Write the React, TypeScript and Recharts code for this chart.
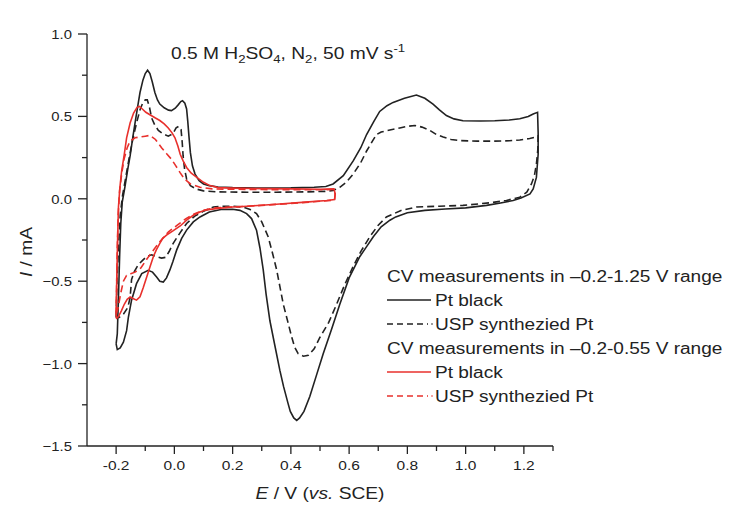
import { Line, LineChart, XAxis, YAxis } from 'recharts'

// E (V vs. SCE), I (mA), each loop in scan order
const ptBlackWide: [number, number][] = [
  [-0.2, -0.88], [-0.196, -0.82], [-0.192, -0.6], [-0.188, -0.35], [-0.184, -0.15],
  [-0.179, -0.02], [-0.17, 0.07], [-0.16, 0.18], [-0.152, 0.26], [-0.143, 0.37],
  [-0.135, 0.46], [-0.126, 0.56], [-0.118, 0.645], [-0.108, 0.72], [-0.1, 0.76],
  [-0.092, 0.78], [-0.084, 0.76], [-0.076, 0.71], [-0.067, 0.645], [-0.058, 0.6],
  [-0.05, 0.575], [-0.035, 0.552], [-0.02, 0.538], [-0.01, 0.535], [0.003, 0.55],
  [0.013, 0.57], [0.022, 0.59], [0.028, 0.595], [0.036, 0.58], [0.042, 0.545],
  [0.046, 0.47], [0.05, 0.38], [0.055, 0.28], [0.062, 0.2], [0.071, 0.15],
  [0.085, 0.11], [0.1, 0.09], [0.12, 0.08], [0.15, 0.072], [0.2, 0.068],
  [0.3, 0.065], [0.4, 0.066], [0.48, 0.07], [0.52, 0.075], [0.545, 0.09],
  [0.58, 0.14], [0.614, 0.23], [0.64, 0.31], [0.66, 0.39], [0.685, 0.47],
  [0.705, 0.53], [0.73, 0.565], [0.751, 0.585], [0.79, 0.61], [0.831, 0.63],
  [0.86, 0.61], [0.888, 0.575], [0.91, 0.54], [0.934, 0.505], [0.96, 0.485],
  [0.991, 0.474], [1.05, 0.472], [1.1, 0.474], [1.15, 0.478], [1.186, 0.486],
  [1.215, 0.5], [1.232, 0.515], [1.247, 0.525],
  [1.249, 0.4], [1.249, 0.27], [1.243, 0.13], [1.232, 0.06], [1.221, 0.03],
  [1.19, 0.005], [1.163, -0.01], [1.12, -0.025], [1.072, -0.04], [1.0, -0.055],
  [0.93, -0.062], [0.86, -0.07], [0.8, -0.085], [0.76, -0.11], [0.74, -0.13],
  [0.71, -0.17], [0.683, -0.23], [0.66, -0.29], [0.637, -0.35], [0.6, -0.48],
  [0.568, -0.64], [0.54, -0.79], [0.511, -0.94], [0.488, -1.07], [0.465, -1.2],
  [0.445, -1.29], [0.43, -1.33], [0.42, -1.345], [0.41, -1.33], [0.398, -1.29],
  [0.39, -1.24], [0.375, -1.14], [0.362, -1.04], [0.345, -0.89], [0.328, -0.74],
  [0.315, -0.58], [0.305, -0.43], [0.294, -0.3], [0.282, -0.19], [0.265, -0.12],
  [0.248, -0.09], [0.225, -0.07], [0.2, -0.063], [0.16, -0.065], [0.12, -0.08],
  [0.088, -0.11], [0.065, -0.14], [0.042, -0.19], [0.025, -0.24], [0.008, -0.31],
  [-0.005, -0.38], [-0.015, -0.43], [-0.027, -0.48], [-0.038, -0.505], [-0.05, -0.5],
  [-0.061, -0.475], [-0.075, -0.445], [-0.09, -0.434], [-0.112, -0.454], [-0.13, -0.515],
  [-0.147, -0.615], [-0.158, -0.72], [-0.164, -0.8], [-0.175, -0.87], [-0.186, -0.905],
  [-0.196, -0.915], [-0.2, -0.88],
]

const uspWide: [number, number][] = [
  [-0.2, -0.72], [-0.197, -0.5], [-0.192, -0.3], [-0.186, -0.1], [-0.178, 0.02],
  [-0.168, 0.12], [-0.155, 0.25], [-0.143, 0.36], [-0.13, 0.46], [-0.118, 0.54],
  [-0.108, 0.585], [-0.1, 0.6], [-0.093, 0.6], [-0.086, 0.56], [-0.078, 0.49],
  [-0.068, 0.45], [-0.055, 0.415], [-0.04, 0.395], [-0.021, 0.38], [-0.005, 0.395],
  [0.006, 0.43], [0.015, 0.44], [0.023, 0.42], [0.027, 0.34], [0.03, 0.26],
  [0.035, 0.18], [0.042, 0.12], [0.055, 0.08], [0.074, 0.06], [0.1, 0.048],
  [0.15, 0.042], [0.25, 0.04], [0.35, 0.04], [0.45, 0.042], [0.52, 0.045],
  [0.545, 0.05], [0.568, 0.07], [0.59, 0.1], [0.614, 0.15], [0.64, 0.22],
  [0.66, 0.29], [0.68, 0.35], [0.694, 0.39], [0.71, 0.405], [0.728, 0.413],
  [0.774, 0.43], [0.8, 0.44], [0.826, 0.445], [0.85, 0.435], [0.877, 0.415],
  [0.9, 0.39], [0.923, 0.375], [0.95, 0.36], [0.98, 0.353], [1.04, 0.35],
  [1.094, 0.35], [1.15, 0.352], [1.186, 0.357], [1.22, 0.366], [1.237, 0.373],
  [1.249, 0.383],
  [1.248, 0.3], [1.243, 0.21], [1.236, 0.14], [1.226, 0.09], [1.21, 0.04],
  [1.186, 0.01], [1.14, -0.01], [1.08, -0.025], [0.991, -0.04], [0.91, -0.045],
  [0.831, -0.05], [0.78, -0.07], [0.728, -0.11], [0.7, -0.16], [0.671, -0.23],
  [0.64, -0.32], [0.614, -0.41], [0.585, -0.52], [0.557, -0.64], [0.53, -0.75],
  [0.5, -0.84], [0.48, -0.91], [0.46, -0.95], [0.443, -0.955], [0.425, -0.94],
  [0.413, -0.9], [0.403, -0.84], [0.39, -0.75], [0.374, -0.64], [0.362, -0.53],
  [0.351, -0.43], [0.337, -0.33], [0.322, -0.23], [0.3, -0.14], [0.282, -0.09],
  [0.26, -0.065], [0.236, -0.05], [0.2, -0.045], [0.16, -0.045], [0.134, -0.05],
  [0.1, -0.075], [0.07, -0.105], [0.042, -0.15], [0.02, -0.205], [-0.004, -0.27],
  [-0.018, -0.32], [-0.03, -0.355], [-0.044, -0.36], [-0.061, -0.35], [-0.078, -0.34],
  [-0.095, -0.35], [-0.11, -0.375], [-0.124, -0.4], [-0.137, -0.44], [-0.147, -0.49],
  [-0.152, -0.6], [-0.16, -0.66], [-0.175, -0.7], [-0.19, -0.72], [-0.2, -0.72],
]

const ptBlackNarrow: [number, number][] = [
  [-0.2, -0.72], [-0.198, -0.5], [-0.195, -0.25], [-0.192, -0.05], [-0.187, 0.07],
  [-0.181, 0.17], [-0.172, 0.27], [-0.164, 0.37], [-0.152, 0.46], [-0.14, 0.52],
  [-0.128, 0.555], [-0.12, 0.56], [-0.11, 0.545], [-0.098, 0.525], [-0.084, 0.51],
  [-0.065, 0.49], [-0.05, 0.475], [-0.035, 0.455], [-0.021, 0.43], [-0.008, 0.4],
  [0.002, 0.37], [0.012, 0.32], [0.02, 0.27], [0.03, 0.23], [0.042, 0.19],
  [0.058, 0.155], [0.077, 0.13], [0.1, 0.1], [0.122, 0.08], [0.15, 0.068],
  [0.2, 0.065], [0.3, 0.062], [0.4, 0.06], [0.5, 0.058], [0.548, 0.06],
  [0.552, 0.03], [0.55, -0.005], [0.523, -0.01], [0.45, -0.02], [0.35, -0.033],
  [0.25, -0.045], [0.2, -0.05], [0.15, -0.058], [0.11, -0.067], [0.088, -0.08],
  [0.065, -0.1], [0.042, -0.13], [0.02, -0.165], [-0.005, -0.195], [-0.027, -0.22],
  [-0.04, -0.24], [-0.05, -0.27], [-0.062, -0.31], [-0.072, -0.35], [-0.085, -0.42],
  [-0.095, -0.475], [-0.107, -0.54], [-0.118, -0.595], [-0.13, -0.615], [-0.142, -0.605],
  [-0.152, -0.595], [-0.162, -0.61], [-0.172, -0.64], [-0.182, -0.68], [-0.192, -0.715],
  [-0.198, -0.725], [-0.2, -0.72],
]

const uspNarrow: [number, number][] = [
  [-0.2, -0.7], [-0.198, -0.5], [-0.196, -0.3], [-0.193, -0.1], [-0.188, 0.05],
  [-0.181, 0.15], [-0.173, 0.24], [-0.162, 0.31], [-0.152, 0.35], [-0.135, 0.37],
  [-0.118, 0.375], [-0.1, 0.38], [-0.084, 0.385], [-0.065, 0.36], [-0.044, 0.31],
  [-0.025, 0.27], [-0.01, 0.24], [0.005, 0.2], [0.019, 0.16], [0.035, 0.12],
  [0.055, 0.09], [0.088, 0.07], [0.13, 0.06], [0.2, 0.058], [0.3, 0.056],
  [0.4, 0.055], [0.5, 0.055], [0.548, 0.057],
  [0.552, 0.03], [0.55, -0.008], [0.5, -0.015], [0.4, -0.028], [0.3, -0.04],
  [0.2, -0.05], [0.14, -0.055], [0.1, -0.07], [0.07, -0.09], [0.04, -0.12],
  [0.01, -0.16], [-0.02, -0.2], [-0.05, -0.26], [-0.08, -0.33], [-0.1, -0.38],
  [-0.115, -0.42], [-0.135, -0.445], [-0.15, -0.455], [-0.164, -0.465], [-0.175, -0.5],
  [-0.185, -0.58], [-0.193, -0.66], [-0.2, -0.7],
]

const xTicks = [-0.2, -0.1, 0, 0.1, 0.2, 0.3, 0.4, 0.5, 0.6, 0.7, 0.8, 0.9, 1.0, 1.1, 1.2, 1.3]
const yTicks = [-1.5, -1.25, -1.0, -0.75, -0.5, -0.25, 0, 0.25, 0.5, 0.75, 1.0]

const legendHeaders = ['CV measurements in \u20130.2-1.25 V range', 'CV measurements in \u20130.2-0.55 V range']
const legendItems = ['Pt black', 'USP synthezied Pt']

const ink = '#222'
const red = '#e8302c'
const font = '"Liberation Sans", Arial, sans-serif'

const toPoints = (arr: [number, number][]) => arr.map(([x, y]) => ({ x, y }))

function SText({ x, y, children, size = 16, sx = 1.2, anchor = 'start', rotate = 0, style }: any) {
  return (
    <text
      transform={`translate(${x} ${y}) rotate(${rotate}) scale(${sx} 1)`}
      fontFamily={font}
      fontSize={size}
      fill={ink}
      textAnchor={anchor}
      style={style}
    >
      {children}
    </text>
  )
}

function XTick({ x, y, payload }: any) {
  const v = payload.value
  const major = Math.round(v * 10) % 2 === 0
  return (
    <g>
      <line x1={x} x2={x} y1={y} y2={y + (major ? 8 : 5)} stroke={ink} strokeWidth={1.3} />
      {major && (
        <SText x={x} y={y + 24} size={13.5} sx={1.15} anchor="middle">
          {v.toFixed(1)}
        </SText>
      )}
    </g>
  )
}

function YTick({ x, y, payload }: any) {
  const v = payload.value
  const major = Math.abs(v * 2 - Math.round(v * 2)) < 1e-6
  return (
    <g>
      <line x1={x} x2={x - (major ? 9 : 5)} y1={y} y2={y} stroke={ink} strokeWidth={1.3} />
      {major && (
        <SText x={x - 15} y={y + 5} size={13.5} sx={1.1} anchor="end">
          {v.toFixed(1).replace('-', '\u2212')}
        </SText>
      )}
    </g>
  )
}

function Overlay() {
  const rowY = (i: number) => 276 + 24 * i
  const rows = [
    { text: legendHeaders[0], sample: null },
    { text: legendItems[0], sample: { color: ink, dash: undefined } },
    { text: legendItems[1], sample: { color: ink, dash: '6 4' } },
    { text: legendHeaders[1], sample: null },
    { text: legendItems[0], sample: { color: red, dash: undefined } },
    { text: legendItems[1], sample: { color: red, dash: '6 4' } },
  ]
  return (
    <svg
      width={732}
      height={506}
      style={{ position: 'absolute', left: 0, top: 0, pointerEvents: 'none' }}
    >
      <SText x={171} y={59}>
        <tspan>0.5 M H</tspan>
        <tspan fontSize={11} dy={4}>2</tspan>
        <tspan dy={-4}>SO</tspan>
        <tspan fontSize={11} dy={4}>4</tspan>
        <tspan dy={-4}>, N</tspan>
        <tspan fontSize={11} dy={4}>2</tspan>
        <tspan dy={-4}>, 50 mV s</tspan>
        <tspan fontSize={11} dy={-7}>-1</tspan>
      </SText>
      <SText x={320} y={499} anchor="middle">
        <tspan fontStyle="italic">E</tspan>
        <tspan> / V (</tspan>
        <tspan fontStyle="italic">vs.</tspan>
        <tspan> SCE)</tspan>
      </SText>
      <SText x={32} y={252} anchor="middle" rotate={-90} sx={1.2}>
        <tspan fontStyle="italic">I</tspan>
        <tspan> / mA</tspan>
      </SText>
      {rows.map((r, i) =>
        r.sample ? (
          <g key={i}>
            <line
              x1={387}
              x2={r.sample.dash ? 428 : 431}
              y1={rowY(i)}
              y2={rowY(i)}
              stroke={r.sample.color}
              strokeWidth={1.5}
              strokeDasharray={r.sample.dash}
            />
            {r.sample.dash && <circle cx={432} cy={rowY(i)} r={0.8} fill={r.sample.color} />}
            <SText x={435} y={rowY(i) + 6} sx={1.19}>{r.text}</SText>
          </g>
        ) : (
          <SText key={i} x={387} y={rowY(i) + 6} sx={1.19}>{r.text}</SText>
        ),
      )}
    </svg>
  )
}

export default function App() {
  return (
    <div style={{ position: 'absolute', left: 0, top: 0, width: 732, height: 506, background: '#fff' }}>
      <LineChart width={732} height={506} margin={{ top: 34, right: 179, bottom: 30, left: 0 }}>
        <XAxis
          type="number"
          dataKey="x"
          domain={[-0.3, 1.3]}
          ticks={xTicks}
          interval={0}
          allowDataOverflow
          height={30}
          tickSize={0}
          tickMargin={0}
          tickLine={false}
          tick={<XTick />}
          axisLine={{ stroke: ink, strokeWidth: 1.3 }}
        />
        <YAxis
          type="number"
          domain={[-1.5, 1.0]}
          ticks={yTicks}
          interval={0}
          allowDataOverflow
          width={87}
          tickSize={0}
          tickMargin={0}
          tickLine={false}
          tick={<YTick />}
          axisLine={{ stroke: ink, strokeWidth: 1.3 }}
        />
        <Line data={toPoints(ptBlackWide)} dataKey="y" type="linear" stroke={ink} strokeWidth={1.6} dot={false} isAnimationActive={false} />
        <Line data={toPoints(uspWide)} dataKey="y" type="linear" stroke={ink} strokeWidth={1.6} strokeDasharray="7 4" dot={false} isAnimationActive={false} />
        <Line data={toPoints(ptBlackNarrow)} dataKey="y" type="linear" stroke={red} strokeWidth={1.6} dot={false} isAnimationActive={false} />
        <Line data={toPoints(uspNarrow)} dataKey="y" type="linear" stroke={red} strokeWidth={1.6} strokeDasharray="7 4" dot={false} isAnimationActive={false} />
      </LineChart>
      <Overlay />
    </div>
  )
}
